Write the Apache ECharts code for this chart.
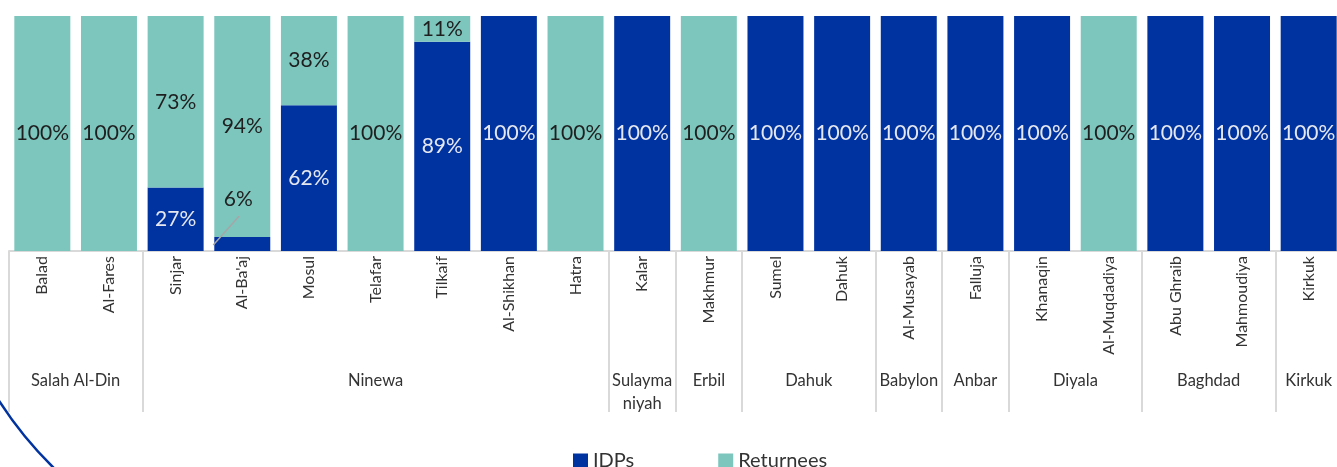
<!DOCTYPE html>
<html>
<head>
<meta charset="utf-8">
<script src="https://cdn.jsdelivr.net/npm/echarts@6/dist/echarts.min.js"></script>
<style>
  html, body { margin: 0; padding: 0; background: #fff; }
  #chart { width: 1337px; height: 467px; }
</style>
</head>
<body>
<div id="chart"></div>
<script>
// districts (first axis row)
const districts = ['Balad', 'Al-Fares', 'Sinjar', "Al-Ba'aj", 'Mosul', 'Telafar', 'Tilkaif', 'Al-Shikhan', 'Hatra',
  'Kalar', 'Makhmur', 'Sumel', 'Dahuk', 'Al-Musayab', 'Falluja', 'Khanaqin', 'Al-Muqdadiya', 'Abu Ghraib', 'Mahmoudiya', 'Kirkuk'];
// governorates and how many districts each spans
const governorates = ['Salah Al-Din', 'Ninewa', 'Sulayma\nniyah', 'Erbil', 'Dahuk', 'Babylon', 'Anbar', 'Diyala', 'Baghdad', 'Kirkuk'];
const groupSizes = [2, 7, 1, 1, 2, 1, 1, 2, 2, 1];
// percentages
const idps      = [0, 0, 27, 6, 62, 0, 89, 100, 0, 100, 0, 100, 100, 100, 100, 100, 0, 100, 100, 100];
const returnees = [100, 100, 73, 94, 38, 100, 11, 0, 100, 0, 100, 0, 0, 0, 0, 0, 100, 0, 0, 0];

const BLUE = '#0033a0';
const TEAL = '#7cc6be';
const FONT = 'Lato';
const CALLOUT = 3; // Al-Ba'aj: IDP label sits above the bar

// second row: half-slot category axis (boundaryGap false) -> 2*n + 1 slots
const groupSlots = new Array(districts.length * 2 + 1).fill('');
const boundaries = new Set();
let start = 0;
governorates.forEach(function (g, i) {
  boundaries.add(start * 2);
  groupSlots[start * 2 + groupSizes[i]] = g;
  start += groupSizes[i];
});
boundaries.add(start * 2);

const chart = echarts.init(document.getElementById('chart'));
chart.setOption({
  backgroundColor: '#fff',
  animation: false,
  textStyle: { fontFamily: FONT },
  graphic: [{
    id: 'arc',
    type: 'arc',
    shape: { cx: 326, cy: 190, r: 389, startAngle: 2.25, endAngle: 2.65 },
    style: { stroke: BLUE, lineWidth: 2.5, fill: null },
    z: -1
  }],
  legend: {
    left: 568,
    top: 446,
    itemWidth: 15,
    itemHeight: 15,
    itemGap: 84,
    icon: 'rect',
    textStyle: { fontSize: 20, color: '#333', fontFamily: FONT },
    data: ['IDPs', 'Returnees']
  },
  grid: { left: 9, top: 16, width: 1333, bottom: 216, outerBoundsMode: 'none', containLabel: false },
  xAxis: [{
    type: 'category',
    data: districts,
    position: 'bottom',
    axisLine: { lineStyle: { color: '#d9d9d9', width: 2 } },
    axisTick: { inside: true, length: 4, lineStyle: { color: '#bfbfbf' } },
    axisLabel: { interval: 0, rotate: 90, margin: 5, fontSize: 16, color: '#333', fontFamily: FONT }
  }, {
    type: 'category',
    data: groupSlots,
    position: 'bottom',
    boundaryGap: false,
    axisLine: { show: false },
    axisTick: {
      show: true,
      length: 161,
      interval: function (idx) { return boundaries.has(idx); },
      lineStyle: { color: '#d9d9d9', width: 2 }
    },
    axisLabel: { interval: 0, margin: 118, fontSize: 16.5, lineHeight: 23, color: '#333', fontFamily: FONT, align: 'center' }
  }],
  yAxis: { type: 'value', min: 0, max: 100, show: false },
  series: [{
    name: 'IDPs',
    type: 'bar',
    stack: 'total',
    barCategoryGap: '16%',
    itemStyle: { color: BLUE },
    label: {
      show: true,
      position: 'inside',
      fontSize: 21,
      color: '#e6e8f0',
      fontFamily: FONT,
      formatter: function (p) { return p.value ? p.value + '%' : ''; }
    },
    labelLayout: function (p) {
      if (p.dataIndex !== CALLOUT) return {};
      const r = p.rect;
      const lr = p.labelRect;
      return { x: r.x + r.width / 2 - 4 - lr.width / 2, y: r.y - 38 - lr.height / 2 };
    },
    data: idps.map(function (v, i) {
      if (i === CALLOUT) return { value: v, label: { color: '#222' } };
      return v;
    })
  }, {
    name: 'Returnees',
    type: 'bar',
    stack: 'total',
    barCategoryGap: '16%',
    itemStyle: { color: TEAL },
    label: {
      show: true,
      position: 'inside',
      fontSize: 21,
      color: '#1f1f1f',
      fontFamily: FONT,
      formatter: function (p) { return p.value ? p.value + '%' : ''; }
    },
    data: returnees
  }]
});

// leader line for the lifted label, placed from the bar's own pixel position
const barTop = chart.convertToPixel({ seriesIndex: 0 }, [CALLOUT, idps[CALLOUT]]);
const nextBar = chart.convertToPixel({ seriesIndex: 0 }, [CALLOUT + 1, 0]);
const halfBar = (nextBar[0] - barTop[0]) * 0.84 / 2;
chart.setOption({
  graphic: [{
    id: 'leader',
    type: 'line',
    shape: { x1: barTop[0] - halfBar - 1, y1: barTop[1] + 8, x2: barTop[0] - 3, y2: barTop[1] - 21 },
    style: { stroke: '#a6a6a6', lineWidth: 1.5 },
    z: 10
  }]
});
</script>
</body>
</html>
